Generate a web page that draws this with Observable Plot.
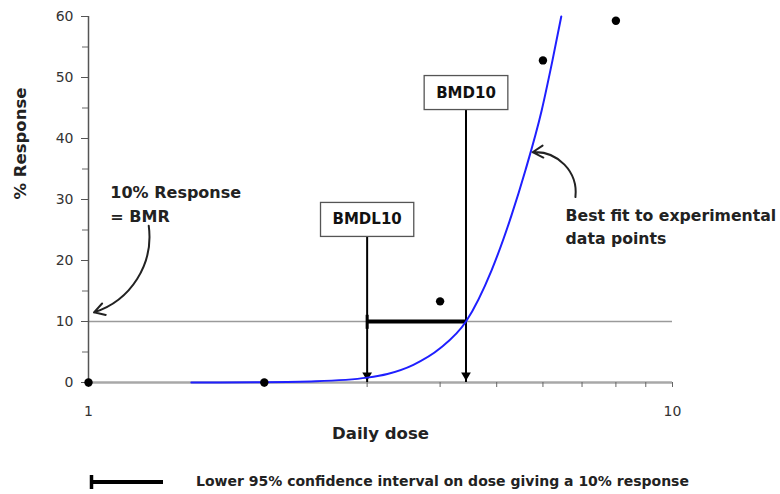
<!DOCTYPE html>
<html>
<head>
<meta charset="utf-8">
<script src="https://cdn.jsdelivr.net/npm/d3@7"></script>
<script src="https://cdn.jsdelivr.net/npm/@observablehq/plot@0.6"></script>
<style>
  html, body { margin: 0; padding: 0; background: #fff; }
  #wrap { position: relative; width: 780px; height: 494px; overflow: hidden; }
  #legend { position: absolute; left: 0; top: 470px; width: 780px; height: 24px;
            font-family: "DejaVu Sans", sans-serif; font-weight: bold; font-size: 14px; color: #222; }
  #legend svg { position: absolute; left: 88px; top: 3px; }
  #legend span { position: absolute; left: 196px; top: 3px; white-space: nowrap; }
</style>
</head>
<body>
<div id="wrap">
  <div id="chart"></div>
  <div id="legend">
    <svg width="80" height="18"><line x1="3.5" y1="2" x2="3.5" y2="16" stroke="#000" stroke-width="3.5"/><line x1="3" y1="9" x2="75" y2="9" stroke="#000" stroke-width="4"/></svg>
    <span id="legendText"></span>
  </div>
</div>
<script>
// Experimental data points
const doses = [1, 2, 4, 6, 8];
const responses = [0, 0, 13.3, 52.8, 59.3];

// Best-fit curve
const fitDose = [1.5, 2.0, 2.45, 3.0, 3.25, 3.6, 4.0, 4.43, 4.9, 5.3, 5.6, 5.97, 6.23, 6.45];
const fitResponse = [0, 0.05, 0.2, 0.8, 1.4, 2.9, 5.6, 10, 18.4, 27.4, 34.8, 44.6, 52.8, 60];

// Benchmark values
const bmr = 10;
const bmdl10 = 3.0;
const bmd10 = 4.43;

// Axis ticks
const yTicks = [0, 10, 20, 30, 40, 50, 60];
const yMinorTicks = [5, 15, 25, 35, 45, 55];
const xTicks = [1, 2, 3, 4, 5, 6, 7, 8, 9, 10];
const xTickLabels = [1, 10];

// Labels
const boxLabels = ["BMDL10", "BMD10"];
const boxDoses = [bmdl10, bmd10];
const boxCenters = [26.7, 47.5];
const bmrLabel = "10% Response\n= BMR";
const fitLabel = "Best fit to experimental\ndata points";
const legendLabel = "Lower 95% confidence interval on dose giving a 10% response";
const xTitle = "Daily dose";
const yTitle = "% Response";

const points = doses.map((d, i) => ({dose: d, response: responses[i]}));
const fit = fitDose.map((d, i) => ({dose: d, response: fitResponse[i]}));
const boxes = boxLabels.map((l, i) => ({label: l, dose: boxDoses[i], y: boxCenters[i]}));

const font = "DejaVu Sans, sans-serif";

const chart = Plot.plot({
  width: 780,
  height: 460,
  marginLeft: 88,
  marginRight: 108,
  marginTop: 16,
  marginBottom: 78,
  style: {fontFamily: font, fontSize: "14px", color: "#333", background: "#fff"},
  x: {type: "log", domain: [1, 10]},
  y: {domain: [0, 60]},
  marks: [
    // reference line at the BMR
    Plot.ruleY([bmr], {stroke: "#9a9a9a", strokeWidth: 1.5}),
    // x axis line
    Plot.ruleY([0], {stroke: "#a8a8a8", strokeWidth: 2.5}),
    Plot.axisX({ticks: xTicks, tickSize: 5, tickPadding: 19, stroke: "#666",
      tickFormat: d => xTickLabels.includes(d) ? String(d) : "", label: null, fill: "#333"}),
    Plot.axisY({ticks: yTicks, tickSize: 7, tickPadding: 8, stroke: "#555", label: null, fill: "#333"}),
    Plot.axisY({ticks: yMinorTicks, tickSize: 6, tickFormat: () => "", stroke: "#666", label: null}),
    Plot.ruleX([1], {stroke: "#555", strokeWidth: 1.5}),
    // vertical BMD lines
    Plot.ruleX(boxes, {x: "dose", y1: "y", y2: 0, stroke: "#000", strokeWidth: 2}),
    Plot.dot(boxes, {x: "dose", y: 0, symbol: "triangle", rotate: 180, r: 3.6, fill: "#000", stroke: null, dy: -7.3}),
    // confidence interval bar
    Plot.link([{x1: bmdl10, x2: bmd10, y: bmr}], {x1: "x1", x2: "x2", y1: "y", y2: "y", stroke: "#000", strokeWidth: 4}),
    Plot.link([{x: bmdl10, y1: bmr - 1.2, y2: bmr + 1.1}], {x1: "x", x2: "x", y1: "y1", y2: "y2", stroke: "#000", strokeWidth: 3}),
    // fit curve
    Plot.line(fit, {x: "dose", y: "response", stroke: "#1f1fff", strokeWidth: 2, curve: "monotone-x"}),
    // data points
    Plot.dot(points, {x: "dose", y: "response", r: 4.2, fill: "#000"}),
    // boxed labels
    Plot.text(boxes, {x: "dose", y: "y", text: "label", fontSize: 15, fontWeight: "bold", fill: "#111", fontFamily: font}),
    // annotations
    Plot.text([bmrLabel], {x: 1.09, y: 32.9, text: d => d, textAnchor: "start", lineAnchor: "top", lineHeight: 1.47, fontSize: 16, fontWeight: "bold", fill: "#222", fontFamily: font}),
    Plot.text([fitLabel], {x: 6.56, y: 29.2, text: d => d, textAnchor: "start", lineAnchor: "top", lineHeight: 1.47, fontSize: 15.7, fontWeight: "bold", fill: "#222", fontFamily: font}),
    Plot.arrow([{x1: 1.268, y1: 25.7, x2: 1.022, y2: 11.5}], {x1: "x1", y1: "y1", x2: "x2", y2: "y2", bend: 40, headLength: 9, stroke: "#222", strokeWidth: 2}),
    Plot.arrow([{x1: 6.82, y1: 30.4, x2: 5.76, y2: 37.75}], {x1: "x1", y1: "y1", x2: "x2", y2: "y2", bend: -50, headLength: 9, stroke: "#222", strokeWidth: 2}),
    // axis titles
    Plot.text([xTitle], {frameAnchor: "bottom", dy: 56, text: d => d, fontSize: 16.5, fontWeight: "bold", fill: "#222", fontFamily: font}),
    Plot.text([yTitle], {frameAnchor: "left", dx: -68, rotate: -90, text: d => d, fontSize: 16.5, fontWeight: "bold", fill: "#222", fontFamily: font})
  ]
});

document.getElementById("chart").appendChild(chart);
document.getElementById("legendText").textContent = legendLabel;

// Draw frames around the boxed labels
d3.select(chart).selectAll("text").each(function() {
  if (!boxLabels.includes(this.textContent)) return;
  const b = this.getBBox();
  const padX = 12, padY = 8;
  const rect = document.createElementNS("http://www.w3.org/2000/svg", "rect");
  rect.setAttribute("x", b.x - padX);
  rect.setAttribute("y", b.y - padY);
  rect.setAttribute("width", b.width + 2 * padX);
  rect.setAttribute("height", b.height + 2 * padY);
  rect.setAttribute("fill", "#fff");
  rect.setAttribute("stroke", "#555");
  rect.setAttribute("stroke-width", "1.3");
  const t = this.getAttribute("transform");
  if (t) rect.setAttribute("transform", t);
  this.parentNode.insertBefore(rect, this);
});
</script>
</body>
</html>
